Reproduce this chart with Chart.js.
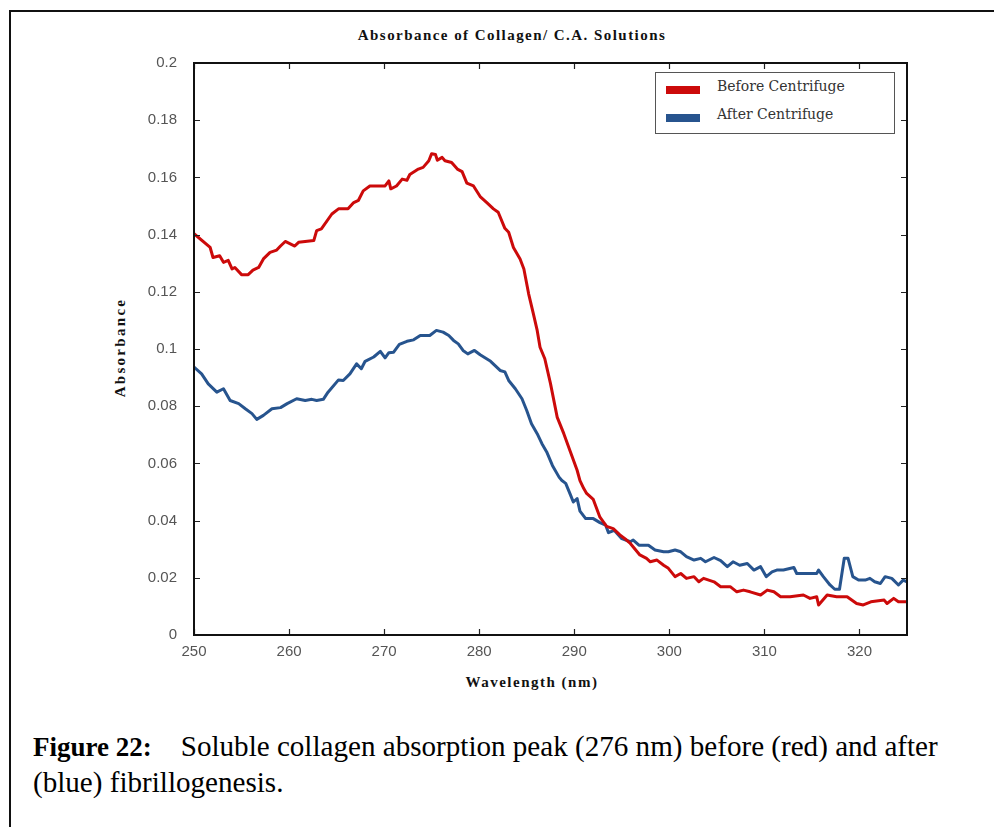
<!DOCTYPE html>
<html>
<head>
<meta charset="utf-8">
<script src="https://cdn.jsdelivr.net/npm/chart.js@4"></script>
<style>
  html, body { margin: 0; padding: 0; background: #fff; }
  body { width: 994px; height: 827px; overflow: hidden; position: relative; }
  .frame { position: absolute; left: 9px; top: 10px; width: 1000px; height: 900px; border: 2px solid #111; box-sizing: border-box; }
  .wrap { position: absolute; left: 140px; top: 45px; width: 780px; height: 615px; }
  .title { position: absolute; left: 262px; width: 500px; top: 27px; text-align: center;
           font: bold 15px "Liberation Serif", serif; letter-spacing: 1.45px; color: #111; }
  .xtitle { position: absolute; left: 432px; width: 200px; top: 674px; text-align: center;
            font: bold 15px "Liberation Serif", serif; letter-spacing: 1.5px; color: #111; }
  .ytitle { position: absolute; left: 60px; top: 339px; width: 120px; text-align: center;
            transform: rotate(-90deg); font: bold 15px "Liberation Serif", serif; letter-spacing: 2.3px; color: #111; }
  .legend { position: absolute; left: 655px; top: 72px; width: 240px; height: 62px; box-sizing: border-box;
            border: 1.5px solid #555; background: #fff; }
  .legend div { position: absolute; left: 10px; height: 20px; font: 14px "DejaVu Serif", serif; color: #333; }
  .legend span.sw { position: absolute; left: 0; top: 7px; width: 34px; height: 8px; }
  .legend span.tx { position: absolute; left: 51px; top: -1px; white-space: nowrap; }
  .caption { position: absolute; left: 33px; top: 729px; width: 950px;
             font: 29.1px/35px "Liberation Serif", serif; color: #000; }
  .caption b { font-size: 27px; margin-right: 29px; }
</style>
</head>
<body>
<div class="frame"></div>
<div class="title">Absorbance of Collagen/ C.A. Solutions</div>
<div class="wrap"><canvas id="absChart"></canvas></div>
<div class="ytitle">Absorbance</div>
<div class="xtitle">Wavelength (nm)</div>
<div class="legend" id="legend"></div>
<div class="caption"><b>Figure 22:</b>Soluble collagen absorption peak (276 nm) before (red) and after (blue) fibrillogenesis.</div>
<script>
// Absorbance before centrifuge (red)
const beforeNm = [250.0, 251.7, 252.0, 252.7, 253.1, 253.6, 254.0, 254.3, 255.0, 255.7, 256.2, 256.8, 257.3, 258.0, 258.7, 259.1, 259.6, 260.6, 261.0, 262.6, 262.9, 263.4, 264.5, 265.2, 266.2, 266.8, 267.3, 267.8, 268.5, 270.1, 270.5, 270.7, 271.3, 271.9, 272.4, 272.7, 273.6, 274.1, 274.7, 275.0, 275.4, 275.6, 276.1, 276.4, 277.1, 277.7, 278.2, 278.7, 279.4, 280.1, 280.8, 281.5, 282.0, 282.7, 283.1, 283.6, 284.3, 284.7, 285.2, 285.7, 286.1, 286.4, 286.9, 287.5, 288.2, 288.9, 289.6, 290.3, 290.6, 291.0, 291.3, 292.0, 292.7, 293.4, 294.1, 294.8, 295.5, 295.9, 296.9, 297.6, 298.0, 298.7, 299.4, 299.9, 300.6, 301.2, 301.8, 302.6, 303.1, 303.6, 304.7, 305.4, 306.4, 307.1, 307.8, 308.5, 309.6, 310.3, 311.0, 311.7, 312.7, 314.1, 314.8, 315.5, 315.7, 316.6, 317.6, 318.7, 319.7, 320.4, 321.2, 322.6, 322.9, 323.6, 324.1, 325.0];
const beforeAbs = [0.1403, 0.1355, 0.1320, 0.1326, 0.1303, 0.1310, 0.1280, 0.1285, 0.1260, 0.1260, 0.1276, 0.1285, 0.1315, 0.1338, 0.1346, 0.1360, 0.1376, 0.1360, 0.1373, 0.1379, 0.1414, 0.1420, 0.1472, 0.1490, 0.1490, 0.1512, 0.1520, 0.1553, 0.1570, 0.1570, 0.1588, 0.1560, 0.1570, 0.1594, 0.1590, 0.1610, 0.1629, 0.1635, 0.1658, 0.1683, 0.1680, 0.1660, 0.1670, 0.1658, 0.1652, 0.1629, 0.1620, 0.1580, 0.1570, 0.1533, 0.1512, 0.1490, 0.1478, 0.1422, 0.1408, 0.1355, 0.1315, 0.1280, 0.1193, 0.1123, 0.1065, 0.1006, 0.0966, 0.0879, 0.0762, 0.0704, 0.0640, 0.0576, 0.0540, 0.0512, 0.0495, 0.0474, 0.0412, 0.0380, 0.0372, 0.0350, 0.0332, 0.0320, 0.0280, 0.0268, 0.0256, 0.0262, 0.0244, 0.0233, 0.0204, 0.0215, 0.0198, 0.0204, 0.0186, 0.0198, 0.0186, 0.0169, 0.0169, 0.0151, 0.0157, 0.0151, 0.0140, 0.0157, 0.0151, 0.0134, 0.0134, 0.0140, 0.0128, 0.0134, 0.0105, 0.0140, 0.0134, 0.0134, 0.0110, 0.0105, 0.0116, 0.0122, 0.0110, 0.0128, 0.0116, 0.0116];

// Absorbance after centrifuge (blue)
const afterNm = [250.0, 250.8, 251.5, 252.4, 253.1, 253.8, 254.7, 255.4, 256.1, 256.6, 257.3, 258.2, 259.1, 259.8, 260.8, 261.7, 262.4, 262.9, 263.6, 264.1, 265.2, 265.7, 266.4, 267.1, 267.6, 268.0, 268.9, 269.6, 270.1, 270.5, 271.0, 271.6, 272.4, 273.1, 273.8, 274.8, 275.5, 276.2, 276.8, 277.3, 277.8, 278.3, 278.8, 279.5, 280.1, 281.2, 282.2, 282.7, 283.1, 283.8, 284.5, 285.0, 285.5, 286.1, 286.6, 287.1, 287.7, 288.4, 288.7, 289.1, 289.6, 289.9, 290.3, 290.6, 291.2, 292.0, 292.7, 293.3, 293.6, 294.2, 295.0, 295.9, 296.2, 296.8, 297.8, 298.5, 299.4, 299.9, 300.6, 301.2, 301.8, 302.6, 303.3, 303.8, 304.7, 305.4, 306.1, 306.7, 307.4, 308.2, 308.9, 309.6, 310.2, 310.8, 311.3, 312.0, 313.1, 313.4, 315.5, 315.7, 316.2, 316.9, 317.4, 317.9, 318.4, 318.8, 319.3, 319.9, 320.6, 321.1, 321.6, 322.2, 322.7, 323.4, 324.1, 324.6, 325.0];
const afterAbs = [0.0937, 0.0913, 0.0878, 0.0849, 0.0861, 0.0820, 0.0809, 0.0791, 0.0774, 0.0754, 0.0768, 0.0791, 0.0795, 0.0809, 0.0826, 0.0820, 0.0824, 0.0820, 0.0824, 0.0849, 0.0892, 0.0890, 0.0913, 0.0948, 0.0931, 0.0957, 0.0972, 0.0992, 0.0969, 0.0987, 0.0989, 0.1016, 0.1027, 0.1032, 0.1047, 0.1047, 0.1065, 0.1059, 0.1047, 0.1030, 0.1018, 0.0995, 0.0983, 0.0995, 0.0980, 0.0957, 0.0925, 0.0920, 0.0890, 0.0861, 0.0826, 0.0785, 0.0739, 0.0704, 0.0669, 0.0640, 0.0593, 0.0552, 0.0540, 0.0530, 0.0490, 0.0465, 0.0477, 0.0433, 0.0407, 0.0407, 0.0393, 0.0384, 0.0358, 0.0366, 0.0337, 0.0326, 0.0332, 0.0314, 0.0314, 0.0297, 0.0291, 0.0291, 0.0297, 0.0291, 0.0274, 0.0262, 0.0268, 0.0256, 0.0271, 0.0260, 0.0239, 0.0256, 0.0244, 0.0250, 0.0227, 0.0239, 0.0204, 0.0221, 0.0227, 0.0227, 0.0236, 0.0215, 0.0215, 0.0227, 0.0204, 0.0175, 0.0160, 0.0160, 0.0268, 0.0268, 0.0204, 0.0192, 0.0192, 0.0198, 0.0186, 0.0180, 0.0204, 0.0198, 0.0175, 0.0192, 0.0186];

const seriesLabels = ['Before Centrifuge', 'After Centrifuge'];
const seriesColors = ['#cc0a0a', '#27548e'];

function toPoints(xs, ys) {
  return xs.map((x, i) => ({ x: x, y: ys[i] }));
}

// box around the plot with short inward tick marks on every side
const boxTicks = {
  id: 'boxTicks',
  afterDraw(chart) {
    const { ctx, chartArea: a, scales } = chart;
    const len = 6;
    ctx.save();
    ctx.strokeStyle = '#222';
    ctx.lineWidth = 1.2;
    ctx.beginPath();
    scales.x.ticks.forEach(t => {
      const px = Math.round(scales.x.getPixelForValue(t.value)) + 0.5;
      ctx.moveTo(px, a.bottom); ctx.lineTo(px, a.bottom - len);
      ctx.moveTo(px, a.top); ctx.lineTo(px, a.top + len);
    });
    scales.y.ticks.forEach(t => {
      const py = Math.round(scales.y.getPixelForValue(t.value)) + 0.5;
      ctx.moveTo(a.left, py); ctx.lineTo(a.left + len, py);
      ctx.moveTo(a.right, py); ctx.lineTo(a.right - len, py);
    });
    ctx.stroke();
    ctx.lineWidth = 2;
    ctx.strokeStyle = '#111';
    ctx.strokeRect(a.left, a.top, a.right - a.left, a.bottom - a.top);
    ctx.restore();
  }
};

const absChart = new Chart(document.getElementById('absChart'), {
  type: 'line',
  data: {
    datasets: [
      { label: seriesLabels[0], data: toPoints(beforeNm, beforeAbs), borderColor: seriesColors[0] },
      { label: seriesLabels[1], data: toPoints(afterNm, afterAbs), borderColor: seriesColors[1] }
    ]
  },
  options: {
    responsive: true,
    maintainAspectRatio: false,
    animation: false,
    layout: { padding: { top: 7, right: 13, left: 0, bottom: 0 } },
    elements: {
      point: { radius: 0 },
      line: { borderWidth: 3, tension: 0, borderJoinStyle: 'round', borderCapStyle: 'round' }
    },
    plugins: {
      legend: { display: false },
      tooltip: { enabled: false }
    },
    scales: {
      x: {
        type: 'linear',
        min: 250,
        max: 325,
        grid: { display: false },
        border: { display: false },
        afterFit(scale) { scale.height = 25; },
        ticks: {
          stepSize: 10,
          includeBounds: false,
          padding: 0,
          color: '#555',
          font: { family: 'Liberation Sans', size: 15 },
          maxRotation: 0
        }
      },
      y: {
        min: 0,
        max: 0.2,
        grid: { display: false },
        border: { display: false },
        afterFit(scale) { scale.width = 54; },
        ticks: {
          stepSize: 0.02,
          padding: 9,
          color: '#555',
          font: { family: 'Liberation Sans', size: 15 },
          callback: v => String(+v.toFixed(2))
        }
      }
    }
  },
  plugins: [boxTicks]
});

// legend box built from the datasets
const legendEl = document.getElementById('legend');
absChart.data.datasets.forEach((ds, i) => {
  const row = document.createElement('div');
  row.style.top = (6 + i * 28) + 'px';
  row.innerHTML = '<span class="sw" style="background:' + ds.borderColor + '"></span><span class="tx">' + ds.label + '</span>';
  legendEl.appendChild(row);
});
</script>
</body>
</html>
